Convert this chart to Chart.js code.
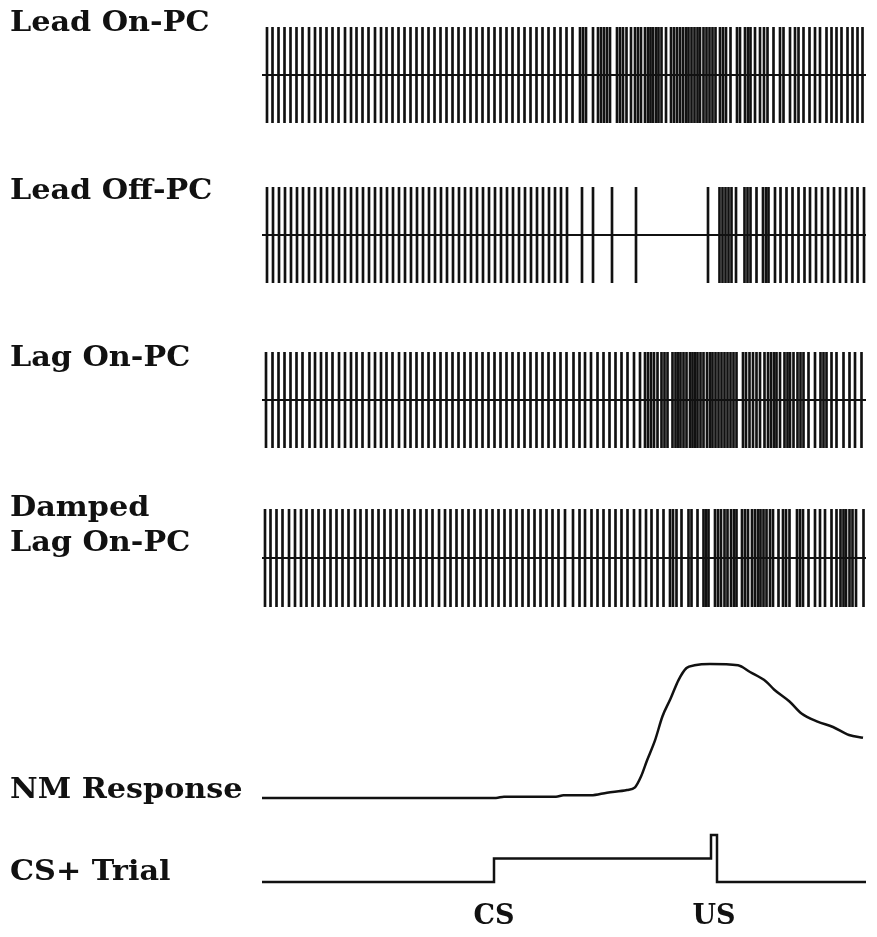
<!DOCTYPE html>
<html>
<head>
<meta charset="utf-8">
<script src="https://cdn.jsdelivr.net/npm/chart.js@4.4.1/dist/chart.umd.min.js"></script>
<style>
html, body { margin: 0; padding: 0; background: #fff; overflow: hidden; }
#page { position: relative; width: 877px; height: 937px; }
.panel { position: absolute; left: 0; }
.lbl { position: absolute; left: 10px; font: bold 27px 'DejaVu Serif', serif; line-height: 27px;
       color: #111; white-space: nowrap; transform: scaleX(1.12); transform-origin: 0 0; }
</style>
</head>
<body>
<div id="page"></div>
<script>
// time axis of the trial (ms from trial start)
const tStart = 0, tEnd = 604;

// spike times for each simulated Purkinje cell
const leadOnSpikes = [5, 10.5, 16.5, 22.5, 28.5, 34.5, 40.5, 47, 53, 58.5, 64.5, 70.5, 76.5, 83, 89, 94.5,
  100.5, 106.5, 113, 119, 124.5, 130.5, 136.5, 142.5, 148.5, 154.5, 160.5, 166.5, 172.5, 178.5, 184.5,
  190.5, 196.5, 202.5, 208.5, 214.5, 220.5, 226.5, 232.5, 238.5, 244.5, 250.5, 256.5, 262.5, 268.5,
  274.5, 280.5, 286.5, 292.5, 298.5, 304.5, 310.5, 318, 321, 324, 331, 336, 339, 342, 345, 348, 355,
  358, 361, 364.5, 369, 373, 376, 379, 383, 386, 388.5, 391, 394, 396.5, 399.5, 404, 409, 412, 415, 418,
  421, 424, 426.5, 429.5, 432.5, 435.5, 438, 441.5, 444.5, 447.5, 450.5, 453.5, 458, 461, 464, 468.5,
  475, 478, 483, 486, 488.5, 493, 498, 502, 505.5, 511.5, 518, 521.5, 528, 533, 536.5, 541.5, 547.5,
  553, 558, 564.5, 569.5, 574.5, 579.5, 585.5, 590.5, 595.5, 600.5];

const leadOffSpikes = [5, 11, 17, 23, 29, 35, 41, 47, 53, 59, 65, 71, 77, 83, 89, 95, 101, 107, 113, 119,
  125, 131, 137, 143, 149, 155, 161, 167, 173, 179, 185, 191, 197, 203, 209, 215, 221, 227, 233, 239,
  245, 251, 257, 263, 269, 275, 281, 287, 293, 299, 305, 320, 331, 350, 374, 446, 457.5, 460.5, 463.5,
  466.5, 469.5, 474, 482.5, 485.5, 488.5, 494.5, 501, 504, 506.5, 513, 518.5, 524.5, 530.5, 536.5,
  542.5, 548, 554, 560, 566, 572, 578, 584, 590, 595.5, 602];

const lagOnSpikes = [4, 10.5, 16.5, 22.5, 28.5, 34.5, 40.5, 47.5, 53, 59, 64.5, 70.5, 77, 83, 89, 94.5,
  100.5, 107, 113, 119, 124.5, 130.5, 137, 143, 148.5, 154.5, 160.5, 166.5, 172.5, 178.5, 184.5, 190.5,
  196.5, 202.5, 208.5, 214.5, 220.5, 226.5, 232.5, 238.5, 244.5, 250.5, 256.5, 262.5, 268.5, 274.5,
  280.5, 286.5, 292.5, 298.5, 304.5, 311.5, 317.5, 323, 329, 335.5, 341.5, 347.5, 353.5, 359.5, 365.5,
  372, 378, 383, 386, 389, 392, 395.5, 399.5, 402.5, 405.5, 410.5, 413.5, 416, 418.5, 421.5, 424.5,
  428, 430.5, 433, 435.5, 438.5, 441.5, 445, 448, 450.5, 453.5, 456.5, 459.5, 462.5, 465.5, 468.5,
  471.5, 474.5, 481, 484, 487.5, 491, 494.5, 498, 502.5, 506, 509, 512, 514.5, 518, 522.5, 525.5, 528,
  531.5, 535.5, 538.5, 541.5, 546.5, 553, 558.5, 561.5, 564.5, 569.5, 574.5, 581.5, 587.5, 593, 599.5];

const dampedLagSpikes = [3, 8.5, 14.5, 20.5, 27, 33, 39, 44.5, 50.5, 56.5, 62.5, 68.5, 74.5, 80.5, 86.5,
  93, 98.5, 104.5, 110.5, 116.5, 122.5, 128.5, 134.5, 140.5, 146.5, 152.5, 158.5, 164.5, 170.5, 177,
  183, 188.5, 194.5, 200.5, 206.5, 212.5, 218.5, 224.5, 230.5, 236.5, 242.5, 248.5, 254.5, 260.5,
  266.5, 272.5, 278.5, 284.5, 290.5, 296.5, 303, 311, 317.5, 323, 329.5, 335.5, 341.5, 347.5, 353.5,
  359.5, 365.5, 372, 378, 384, 389.5, 395.5, 401.5, 408, 411, 414.5, 419.5, 426.5, 429.5, 435.5, 441.5,
  444, 446.5, 453, 456, 459, 462.5, 465.5, 469, 472, 474.5, 480, 483, 486, 490, 493, 496, 498.5, 501.5,
  504.5, 508, 511, 516.5, 521, 524, 527.5, 535, 538, 541, 546.5, 553, 558, 563, 569.5, 574.5, 578.5,
  581.5, 584, 587.5, 590.5, 594, 601.5];

// nictitating membrane response (normalised amplitude)
const nmTimes = [0, 234, 242, 294, 301.5, 329, 345, 365, 373, 379, 385, 393, 400.5, 408.5, 416.5, 424.5,
  432.5, 448, 476, 488, 504, 512, 527.5, 539.5, 555.5, 571, 587, 601];
const nmAmp = [0, 0, 0.01, 0.01, 0.02, 0.02, 0.04, 0.06, 0.08, 0.16, 0.28, 0.43, 0.61, 0.74, 0.88, 0.97,
  0.99, 1.0, 0.99, 0.94, 0.87, 0.81, 0.72, 0.63, 0.57, 0.53, 0.47, 0.45];

// stimulus trace: 0 = off, 1 = CS on, 2 = CS + US
const trialTimes = [0, 232, 449, 455, 604];
const trialLevels = [0, 1, 2, 0, 0];
const eventTimes = [232, 452];
const eventLabels = ['CS', 'US'];

const ink = '#111';
const page = document.getElementById('page');

function addLabel(text, top) {
  const d = document.createElement('div');
  d.className = 'lbl';
  d.style.top = top + 'px';
  d.textContent = text;
  page.appendChild(d);
}

function addCanvas(top, height) {
  const c = document.createElement('canvas');
  c.className = 'panel';
  c.width = 877;
  c.height = height;
  c.style.top = top + 'px';
  page.appendChild(c);
  return c;
}

function baseOptions(padTop, padBottom) {
  return {
    responsive: false,
    animation: false,
    devicePixelRatio: 1,
    layout: { padding: { left: 262, right: 11, top: padTop, bottom: padBottom } },
    plugins: { legend: { display: false }, tooltip: { enabled: false } },
    scales: {
      x: { type: 'linear', min: tStart, max: tEnd, offset: false, display: false }
    }
  };
}

// one raster row: baseline plus a vertical tick per spike
function raster(top, height, spikes) {
  const opts = baseOptions(2, 2);
  opts.scales.y = { min: -1, max: 1, display: false };
  new Chart(addCanvas(top, height), {
    type: 'bar',
    data: {
      datasets: [
        { type: 'line', data: [{ x: tStart, y: 0 }, { x: tEnd, y: 0 }],
          borderColor: ink, borderWidth: 2, pointRadius: 0 },
        { data: spikes.map(t => ({ x: t, y: [-1, 1] })),
          backgroundColor: ink, barThickness: 2 }
      ]
    },
    options: opts
  });
}

raster(25, 100, leadOnSpikes);
raster(185, 100, leadOffSpikes);
raster(350, 100, lagOnSpikes);
raster(507, 102, dampedLagSpikes);

// NM response
const nmOpts = baseOptions(8, 8);
nmOpts.scales.y = { min: 0, max: 1, display: false };
new Chart(addCanvas(656, 150), {
  type: 'line',
  data: {
    datasets: [{
      data: nmTimes.map((t, i) => ({ x: t, y: nmAmp[i] })),
      borderColor: ink, borderWidth: 2.5, pointRadius: 0, clip: 6,
      cubicInterpolationMode: 'monotone'
    }]
  },
  options: nmOpts
});

// CS+ trial stimulus trace with CS / US marks on the time axis
const trOpts = baseOptions(8, 0);
trOpts.scales.y = { min: 0, max: 2, display: false };
trOpts.scales.x = {
  type: 'linear', min: tStart, max: tEnd, offset: false,
  grid: { display: false }, border: { display: false },
  afterBuildTicks: s => { s.ticks = eventTimes.map(v => ({ value: v })); },
  ticks: {
    autoSkip: false, maxRotation: 0, padding: 11, color: ink,
    font: { family: 'DejaVu Serif', size: 27, weight: 'bold' },
    callback: v => eventLabels[eventTimes.indexOf(v)]
  }
};
new Chart(addCanvas(827, 102), {
  type: 'line',
  data: {
    datasets: [{
      data: trialTimes.map((t, i) => ({ x: t, y: trialLevels[i] })),
      borderColor: ink, borderWidth: 2.5, pointRadius: 0, stepped: true, clip: 6,
      borderJoinStyle: 'miter'
    }]
  },
  options: trOpts
});

addLabel('Lead On-PC', 8);
addLabel('Lead Off-PC', 176);
addLabel('Lag On-PC', 343);
addLabel('Damped', 493);
addLabel('Lag On-PC', 528);
addLabel('NM Response', 775);
addLabel('CS+ Trial', 857);
</script>
</body>
</html>
